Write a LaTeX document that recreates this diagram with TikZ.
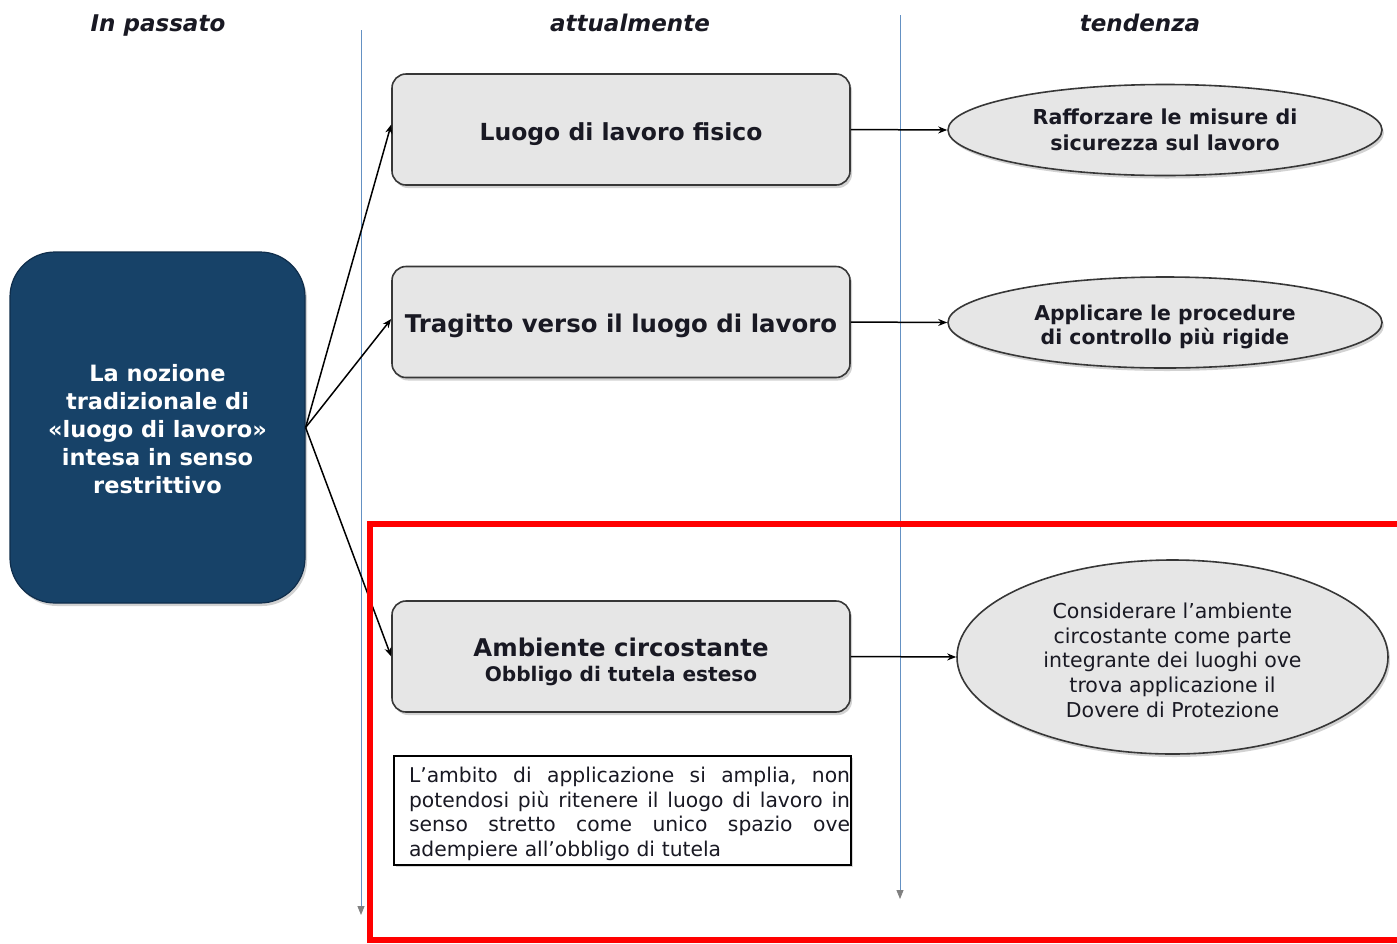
\documentclass[tikz,border=0pt]{standalone}
\usepackage{fontspec}
\setmainfont{DejaVu Sans}
\usetikzlibrary{arrows.meta,shadows,shapes.geometric}
\definecolor{navy}{RGB}{23,66,104}
\definecolor{navyedge}{RGB}{15,45,75}
\definecolor{boxfill}{RGB}{230,230,230}
\definecolor{boxedge}{RGB}{55,55,55}
\definecolor{guide}{RGB}{100,145,195}
\definecolor{txt}{RGB}{25,25,35}
\newcommand{\lowerby}[2]{\raisebox{-#1}[\height][\depth]{#2}}
\tikzset{
  x=1pt, y=-1pt,
  header/.style={font=\bfseries\itshape\fontsize{23}{26}\selectfont, text=txt, anchor=base},
  bluebox/.style={rectangle, rounded corners=45pt, fill=navy, draw=navyedge, line width=1.2pt,
     minimum width=295pt, minimum height=351pt, text=white, align=center,
     font=\bfseries\fontsize{22.5}{28}\selectfont,
     drop shadow={shadow xshift=2pt, shadow yshift=-3pt, opacity=0.35}},
  greybox/.style={rectangle, rounded corners=14pt, fill=boxfill, draw=boxedge, line width=1.6pt,
     minimum width=458pt, minimum height=111pt, text=txt, align=center,
     drop shadow={shadow xshift=2pt, shadow yshift=-3pt, opacity=0.35}},
  oval/.style={ellipse, fill=boxfill, draw=boxedge, line width=1.6pt, text=txt, align=center,
     inner sep=0pt,
     drop shadow={shadow xshift=2pt, shadow yshift=-3pt, opacity=0.35}},
  link/.style={-{Stealth[length=9pt,width=7pt]}, line width=1.5pt, black},
  guideline/.style={draw=guide, line width=0.9pt, -{Triangle[length=9pt,width=7pt,fill=gray,color=gray]}},
  notebox/.style={rectangle, draw=black, line width=2pt, fill=white, minimum width=457pt, minimum height=109pt,
     text width=457pt, align=left, inner xsep=0pt, text=txt,
     font=\fontsize{20.3}{24.4}\selectfont,
     drop shadow={shadow xshift=1.5pt, shadow yshift=-2pt, opacity=0.3}},
}
\begin{document}
\begin{tikzpicture}
\useasboundingbox (0,0) rectangle (1397,943);
\fill[white] (0,0) rectangle (1397,943);

% headers
\node[header] (h1) at (158,31) {In passato};
\node[header] (h2) at (630,31) {attualmente};
\node[header] (h3) at (1140,31) {tendenza};

% guide lines
\coordinate (g1t) at (361,30);
\coordinate (g1b) at (361,915);
\coordinate (g2t) at (900,15);
\coordinate (g2b) at (900,899);
\draw[guideline] (g1t) -- (g1b);
\draw[guideline] (g2t) -- (g2b);

% left box
\node[bluebox] (past) at (157.5,427.5) {\rule{0pt}{21pt}La nozione\\tradizionale di\\«luogo di lavoro»\\intesa in senso\\restrittivo};

% middle boxes
\node[greybox, font=\bfseries\fontsize{23.5}{26}\selectfont] (b1) at (621,129.5) {\lowerby{5pt}{Luogo di lavoro fisico}};
\node[greybox, font=\bfseries\fontsize{24.4}{26}\selectfont] (b2) at (621,322) {\lowerby{4pt}{Tragitto verso il luogo di lavoro}};
\node[greybox, font=\bfseries\fontsize{24.4}{25}\selectfont] (b3) at (621,656.5) {\rule{0pt}{30pt}Ambiente circostante\\{\fontsize{20.1}{25}\selectfont Obbligo di tutela esteso}};

% note box
\node[notebox] (note) at (622.5,810.5) {\rule{0pt}{22pt}\hspace*{15pt}\makebox[441pt][s]{L’ambito\hfill di\hfill applicazione\hfill si\hfill amplia,\hfill non}\\
\hspace*{15pt}\makebox[441pt][s]{potendosi\hfill più\hfill ritenere\hfill il\hfill luogo\hfill di\hfill lavoro\hfill in}\\
\hspace*{15pt}\makebox[441pt][s]{senso\hfill stretto\hfill come\hfill unico\hfill spazio\hfill ove}\\
\hspace*{15pt}adempiere all’obbligo di tutela};

% ellipses
\node[oval, minimum width=434pt, minimum height=91pt, font=\bfseries\fontsize{20.6}{26}\selectfont] (e1) at (1165,130) {Rafforzare le misure di\\sicurezza sul lavoro};
\node[oval, minimum width=434pt, minimum height=91pt, font=\bfseries\fontsize{20.4}{24}\selectfont] (e2) at (1165,322.5) {\rule{0pt}{25pt}Applicare le procedure\\di controllo più rigide};
\node[oval, minimum width=431pt, minimum height=194pt, font=\fontsize{20.5}{24.8}\selectfont] (e3) at (1172.5,657) {\rule{0pt}{22pt}Considerare l’ambiente\\circostante come parte\\integrante dei luoghi ove\\trova applicazione il\\Dovere di Protezione};

% connectors
\draw[link] (past.east) -- ([yshift=5pt]b1.west);
\draw[link] (past.east) -- ([yshift=3pt]b2.west);
\draw[link] (past.east) -- (b3.west);
\draw[link] (b1.east) -- (e1.west);
\draw[link] (b2.east) -- (e2.west);
\draw[link] (b3.east) -- (e3.west);

% red frame
\coordinate (r1) at (370,524);
\coordinate (r2) at (1405,940);
\draw[red, line width=6pt] (r1) rectangle (r2);
\end{tikzpicture}
\end{document}
